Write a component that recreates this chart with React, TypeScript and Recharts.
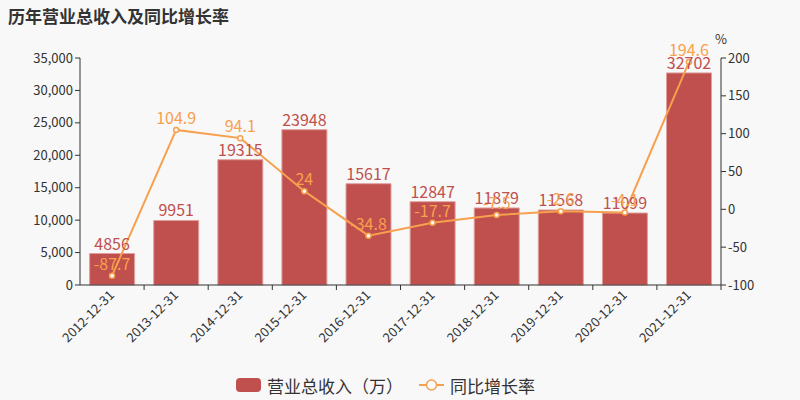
import { ComposedChart, Bar, Line, XAxis, YAxis, Legend, LabelList } from 'recharts'

const years = ['2012-12-31', '2013-12-31', '2014-12-31', '2015-12-31', '2016-12-31', '2017-12-31', '2018-12-31', '2019-12-31', '2020-12-31', '2021-12-31']
const revenue = [4856, 9951, 19315, 23948, 15617, 12847, 11879, 11568, 11099, 32702]
const growth = [-87.7, 104.9, 94.1, 24, -34.8, -17.7, -7.5, -2.6, -4.1, 194.6]
const leftTicks = [0, 5000, 10000, 15000, 20000, 25000, 30000, 35000]
const rightTicks = [-100, -50, 0, 50, 100, 150, 200]

const BAR = '#c0504d'
const LINE = '#f7a04e'
const FONT = '"Noto Sans CJK SC", "Noto Sans", sans-serif'

const chartData = years.map((y, i) => ({ year: y, revenue: revenue[i], growth: growth[i] }))

const BAND = 64.1

function XTick(props: any) {
  const { x, y, payload } = props
  return (
    <g>
      <line x1={x + BAND / 2} x2={x + BAND / 2} y1={y - 8} y2={y - 3} stroke="#333" />
      <text x={x + 3} y={y + 3} transform={`rotate(-45, ${x + 3}, ${y + 3})`} textAnchor="end" fontSize={13} fill="#333" fontFamily={FONT}>
        {payload.value}
      </text>
    </g>
  )
}

function LegendContent() {
  return (
    <div style={{ display: 'flex', justifyContent: 'center', alignItems: 'center', height: 30, fontSize: 17, color: '#333', fontFamily: FONT }}>
      <span style={{ display: 'inline-block', width: 25, height: 14, background: BAR, borderRadius: 4, marginRight: 6 }} />
      <span style={{ marginRight: 16 }}>营业总收入（万）</span>
      <svg width={25} height={14} style={{ marginRight: 6 }}>
        <line x1={0} x2={25} y1={7} y2={7} stroke={LINE} strokeWidth={2} />
        <circle cx={12.5} cy={7} r={5} fill="#fff" stroke={LINE} strokeWidth={1.5} />
      </svg>
      <span>同比增长率</span>
    </div>
  )
}

export default function App() {
  return (
    <div style={{ position: 'absolute', left: 0, top: 0, width: 800, height: 400, background: '#f8f8f8', fontFamily: FONT }}>
      <div style={{ position: 'absolute', left: 8, top: 3, fontSize: 17, fontWeight: 'bold', color: '#333' }}>历年营业总收入及同比增长率</div>
      <div style={{ position: 'absolute', left: 715, top: 29, fontSize: 13, color: '#333' }}>%</div>
      <ComposedChart width={800} height={400} data={chartData} margin={{ top: 58, right: 29, left: 0, bottom: 0 }} barCategoryGap="15%">
        <XAxis dataKey="year" height={85} interval={0} tick={<XTick />} tickLine={false} axisLine={{ stroke: '#333' }} />
        <YAxis yAxisId="left" width={80} domain={[0, 35000]} ticks={leftTicks} tickFormatter={(v: number) => v.toLocaleString('en-US')} tick={{ fontSize: 13, fill: '#333' }} axisLine={{ stroke: '#333' }} tickLine={{ stroke: '#333' }} tickSize={5} />
        <YAxis yAxisId="right" orientation="right" width={50} domain={[-100, 200]} ticks={rightTicks} tick={{ fontSize: 13, fill: '#333' }} axisLine={{ stroke: '#333' }} tickLine={{ stroke: '#333' }} tickSize={5} />
        <Legend verticalAlign="bottom" height={30} content={<LegendContent />} />
        <Bar yAxisId="left" dataKey="revenue" name="营业总收入（万）" fill={BAR} stroke="#e0a09e" strokeWidth={1} isAnimationActive={false}>
          <LabelList dataKey="revenue" position="top" offset={4} fill={BAR} fontSize={16} />
        </Bar>
        <Line yAxisId="right" dataKey="growth" name="同比增长率" stroke={LINE} strokeWidth={2} dot={{ r: 2.5, fill: '#fff', stroke: LINE, strokeWidth: 1.5 }} isAnimationActive={false}>
          <LabelList dataKey="growth" position="top" offset={6} fill={LINE} fontSize={16} />
        </Line>
      </ComposedChart>
    </div>
  )
}
